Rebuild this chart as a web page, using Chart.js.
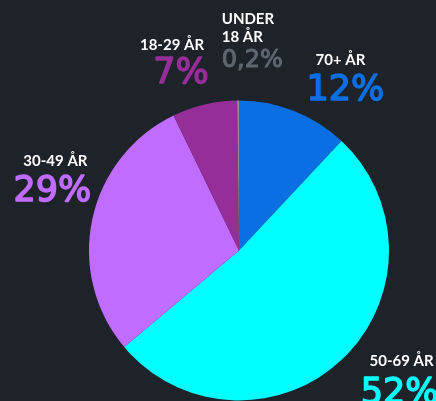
<!DOCTYPE html>
<html>
<head>
<meta charset="utf-8">
<script src="https://cdn.jsdelivr.net/npm/chart.js@4.4.0/dist/chart.umd.min.js"></script>
<style>
  html, body { margin: 0; padding: 0; background: #1e2229; }
  #wrap { width: 436px; height: 401px; position: relative; }
</style>
</head>
<body>
<div id="wrap"><canvas id="pie"></canvas></div>
<script>
// data
const ageGroups = ["70+ ÅR", "50-69 ÅR", "30-49 ÅR", "18-29 ÅR", "UNDER 18 ÅR"];
const shares = [12, 52, 29, 7, 0.2];
const shareLabels = ["12%", "52%", "29%", "7%", "0,2%"];

const sliceColors = ["#0a6fe2", "#00ffff", "#c06cff", "#952e98", "#8b9095"];
const pctColors = ["#0a6fe2", "#00ffff", "#c06cff", "#952e98", "#5d6870"];

// label layout tweaks (relative to a point on the mid-angle outside the pie)
const labelNudge = [[28, 1], [25, -30], [12, -43], [-21, -6], [-16, -27]];
const pctShift = [[5, 35], [-2, 37], [-3, 35], [9, 33], [0, 25]];
const nameLines = [["70+ ÅR"], ["50-69 ÅR"], ["30-49 ÅR"], ["18-29 ÅR"], ["UNDER", "18 ÅR"]];
const pctSize = [35, 35, 35, 35, 24];

const outsideLabels = {
  id: "outsideLabels",
  afterDatasetsDraw(chart) {
    const ctx = chart.ctx;
    const arcs = chart.getDatasetMeta(0).data;
    arcs.forEach((arc, i) => {
      const p = arc.getProps(["x", "y", "startAngle", "endAngle", "outerRadius"], true);
      const mid = (p.startAngle + p.endAngle) / 2;
      const dist = p.outerRadius + 50;
      const x = p.x + Math.cos(mid) * dist + labelNudge[i][0];
      const y = p.y + Math.sin(mid) * dist + labelNudge[i][1];
      const left = nameLines[i].length > 1;
      ctx.save();
      ctx.textAlign = left ? "left" : "center";
      ctx.textBaseline = "alphabetic";
      ctx.fillStyle = "#ffffff";
      ctx.font = "bold 15px Lato, 'Open Sans', sans-serif";
      nameLines[i].forEach((line, k) => {
        ctx.fillText(line, x, y + k * 18);
      });
      const lastY = y + (nameLines[i].length - 1) * 18;
      ctx.fillStyle = pctColors[i];
      ctx.strokeStyle = pctColors[i];
      ctx.lineWidth = pctSize[i] > 30 ? 1.5 : 1;
      ctx.lineJoin = "round";
      ctx.font = pctSize[i] + "px 'DejaVu Sans', sans-serif";
      const px = x + pctShift[i][0];
      const py = lastY + pctShift[i][1];
      ctx.fillText(shareLabels[i], px, py);
      ctx.strokeText(shareLabels[i], px, py);
      ctx.restore();
    });
  }
};

new Chart(document.getElementById("pie"), {
  type: "pie",
  data: {
    labels: ageGroups,
    datasets: [{
      data: shares,
      backgroundColor: sliceColors,
      borderWidth: 0
    }]
  },
  options: {
    responsive: true,
    maintainAspectRatio: false,
    animation: false,
    layout: { padding: { top: 100, bottom: 0, left: 89, right: 47 } },
    plugins: {
      legend: { display: false },
      tooltip: { enabled: false }
    }
  },
  plugins: [outsideLabels]
});
</script>
</body>
</html>
